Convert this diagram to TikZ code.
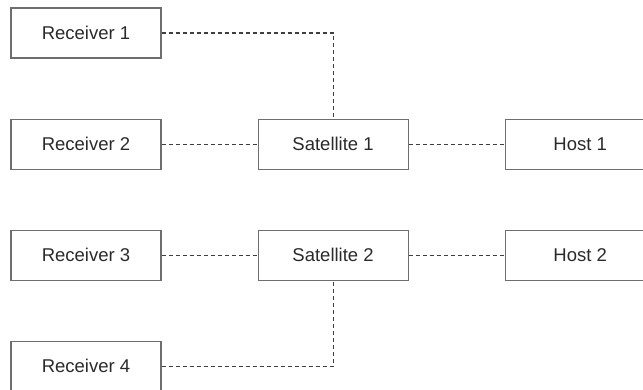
\documentclass[tikz,border=0pt]{standalone}
\usepackage{fontspec}
\setmainfont{Liberation Sans}
\usetikzlibrary{positioning}
\definecolor{boxline}{HTML}{6E6E6E}
\definecolor{dashline}{HTML}{3F3F3F}
\definecolor{labeltext}{HTML}{2A2A2A}
\tikzset{unit/.style={draw=boxline, line width=1.1pt, minimum width=150pt,
      minimum height=50pt, inner sep=0pt, text=labeltext,
      font=\fontsize{18.5}{22}\selectfont},
    link/.style={draw=dashline, line width=1.1pt, dash pattern=on 4pt off 3pt},
    }

\begin{document}
\begin{tikzpicture}
\useasboundingbox (0,0) rectangle (643pt,-389pt);
% receivers
\node[unit] (rec1) at (86pt,-33pt) {Receiver 1};
\node[unit, below=60pt of rec1] (rec2) {Receiver 2};
\node[unit, below=60pt of rec2] (rec3) {Receiver 3};
\node[unit, below=60pt of rec3] (rec4) {Receiver 4};
% satellites
\node[unit, right=96pt of rec2] (sat1) {Satellite 1};
\node[unit, right=96pt of rec3] (sat2) {Satellite 2};
% hosts
\node[unit, right=96pt of sat1] (host1) {Host 1};
\node[unit, right=96pt of sat2] (host2) {Host 2};
% links
\draw[link] (rec1) -| (sat1);
\draw[link] (rec2) -- (sat1);
\draw[link] (sat1) -- (host1);
\draw[link] (rec3) -- (sat2);
\draw[link] (sat2) -- (host2);
\draw[link] (rec4) -| (sat2);
\end{tikzpicture}
\end{document}
